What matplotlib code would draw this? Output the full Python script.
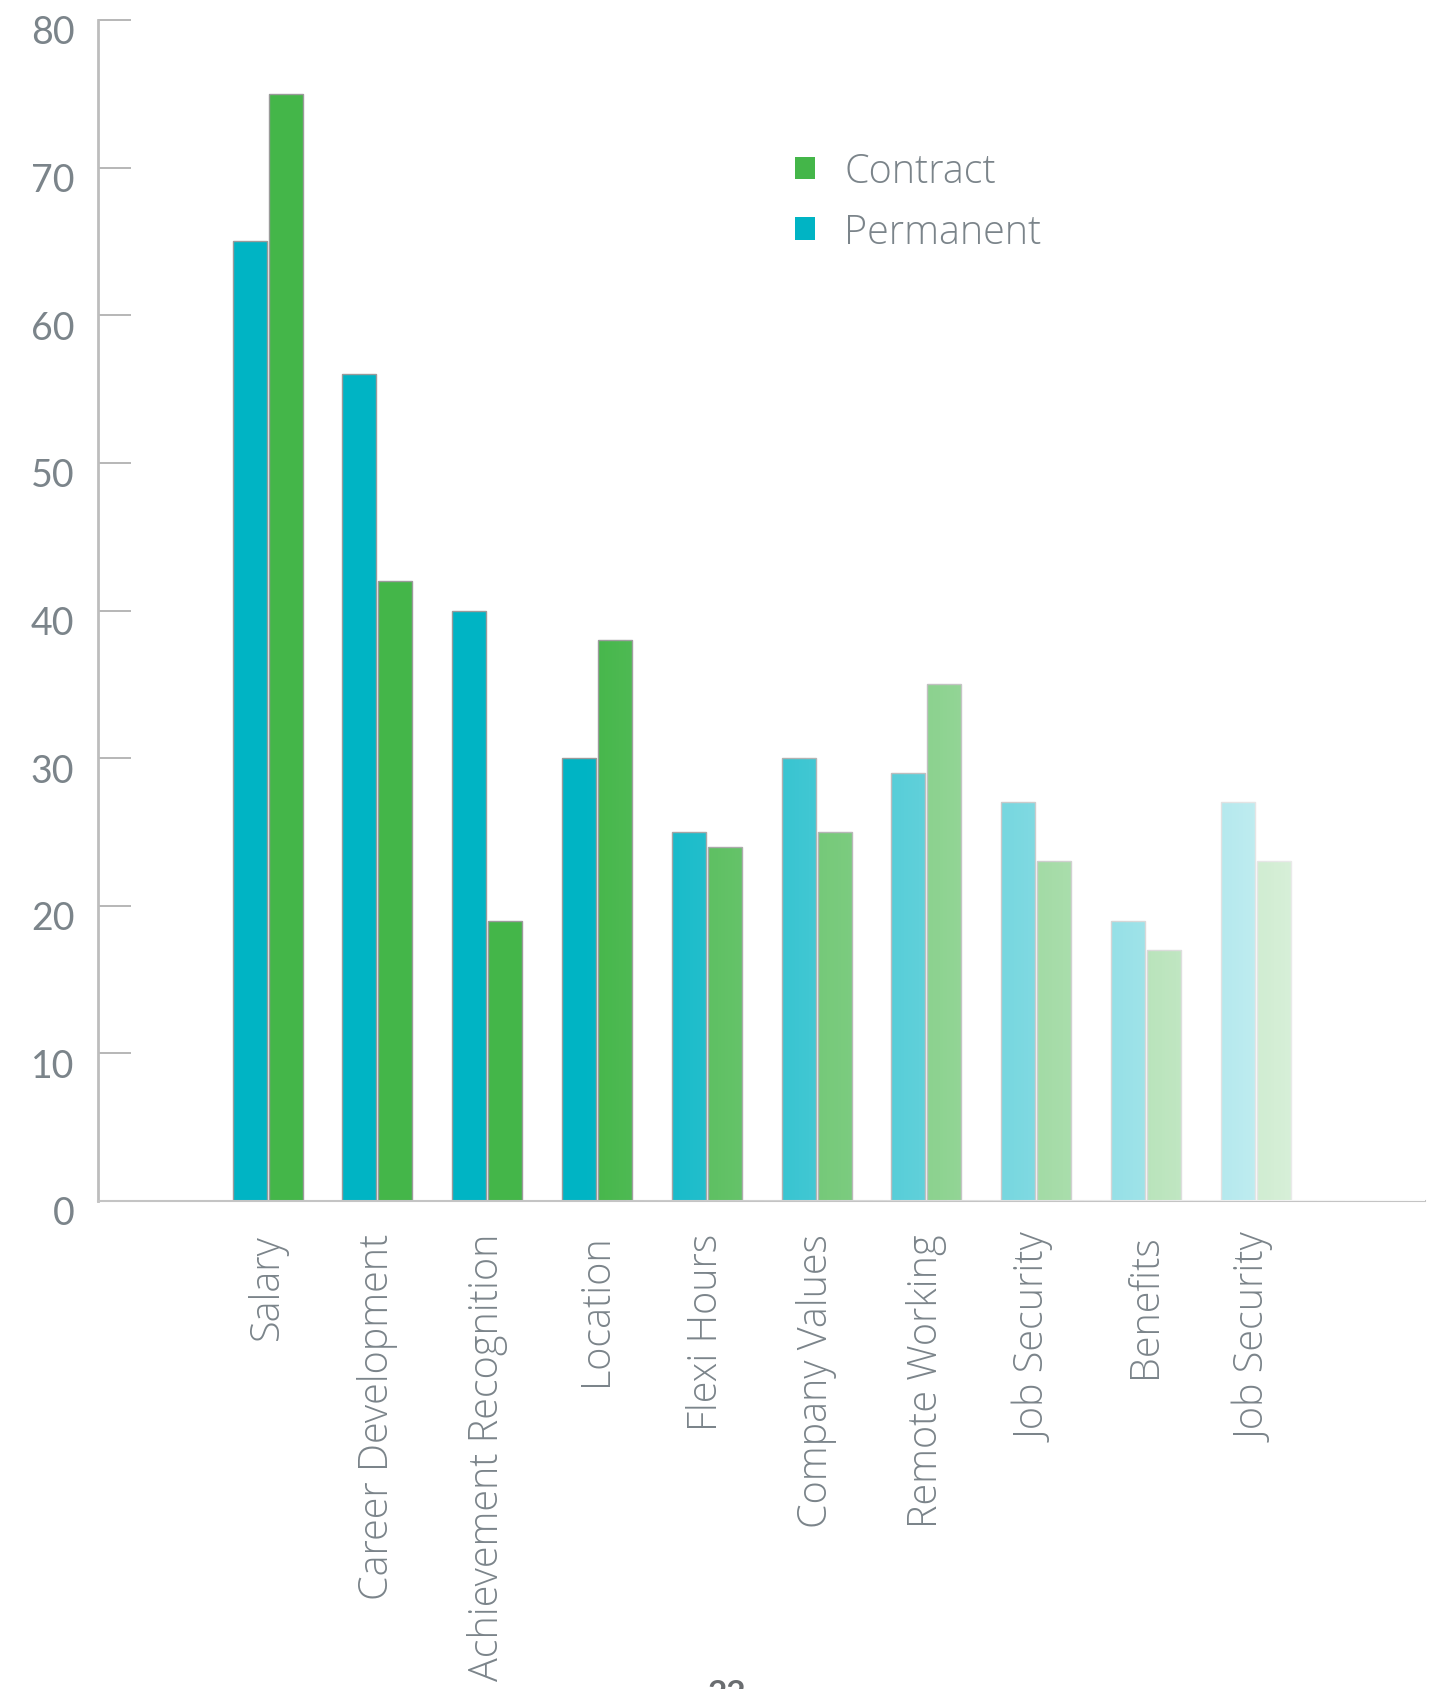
import numpy as np
import matplotlib
matplotlib.use("Agg")
import matplotlib.pyplot as plt
from matplotlib.patches import Patch
from matplotlib.transforms import ScaledTranslation

# Survey data: share of respondents naming each factor
categories = ["Salary", "Career Development", "Achievement Recognition", "Location",
              "Flexi Hours", "Company Values", "Remote Working", "Job Security",
              "Benefits", "Job Security"]
permanent = [65, 56, 40, 30, 25, 30, 29, 27, 19, 27]
contract = [75, 42, 19, 38, 24, 25, 35, 23, 17, 23]
yticks = [0, 10, 20, 30, 40, 50, 60, 70, 80]

cyan = "#00b4c4"
green = "#44b649"
text_grey = "#7b848a"
line_grey = "#bdbdbd"

plt.rcParams["font.family"] = ["Lato", "DejaVu Sans"]
thin = ["Open Sans", "DejaVu Sans"]

W, H = 1433, 1690
fig = plt.figure(figsize=(W / 100, H / 100), dpi=100)
ax = fig.add_axes([98 / W, 488 / H, (1425 - 98) / W, 1181 / H])

x = np.arange(len(categories))
bw = 0.31
off = 0.164
ax.bar(x - off, permanent, bw, color=cyan, edgecolor="#9a9a9a", linewidth=1, zorder=2)
ax.bar(x + off, contract, bw, color=green, edgecolor="#9a9a9a", linewidth=1, zorder=2)

ax.set_xlim(-1.544, 10.541)
ax.set_ylim(0, 80)

# white fade towards the right side of the plot
ramp = np.clip((np.linspace(98, 1425, 600) - 580) / 900, 0, 1)
fade = np.ones((1, 600, 4))
fade[0, :, 3] = ramp
ax.imshow(fade, extent=[0, 1, -0.01, 1], transform=ax.transAxes, aspect="auto",
          zorder=3, interpolation="bilinear")

for s in ["top", "right"]:
    ax.spines[s].set_visible(False)
ax.spines["left"].set_color(line_grey)
ax.spines["left"].set_linewidth(2)
ax.spines["bottom"].set_color("#c4c4c4")
ax.spines["bottom"].set_linewidth(1.5)
ax.spines["bottom"].set_zorder(2.5)

ax.set_yticks(yticks)
ax.tick_params(axis="y", direction="in", length=24, width=1.2, color="#aaaaaa",
               labelsize=27, labelcolor=text_grey, pad=17)
for lab in ax.get_yticklabels():
    lab.set_transform(lab.get_transform() + ScaledTranslation(0, -0.09, fig.dpi_scale_trans))

ax.set_xticks(x)
ax.set_xticklabels(categories, rotation=90, fontsize=28.5, color=text_grey,
                   family=thin, fontweight="light", va="top", ha="center")
ax.tick_params(axis="x", length=0, pad=23)

handles = [Patch(facecolor=green, edgecolor="none"), Patch(facecolor=cyan, edgecolor="none")]
leg = ax.legend(handles, ["Contract", "Permanent"], loc="upper left",
                bbox_to_anchor=(795 / W, 1 - 152 / H), bbox_transform=fig.transFigure,
                frameon=False, prop={"family": thin, "weight": "light", "size": 28.5},
                handlelength=0.5, handleheight=0.5,
                handletextpad=0.75, labelspacing=0.5, borderpad=0, borderaxespad=0)
for t in leg.get_texts():
    t.set_color(text_grey)
leg.set_zorder(5)

# page number at the foot of the page
fig.text(727 / W, 10 / H, "22", ha="center", va="top", fontsize=24,
         fontweight="bold", color="#6a6d70")

fig.savefig("out.png", dpi=100)
